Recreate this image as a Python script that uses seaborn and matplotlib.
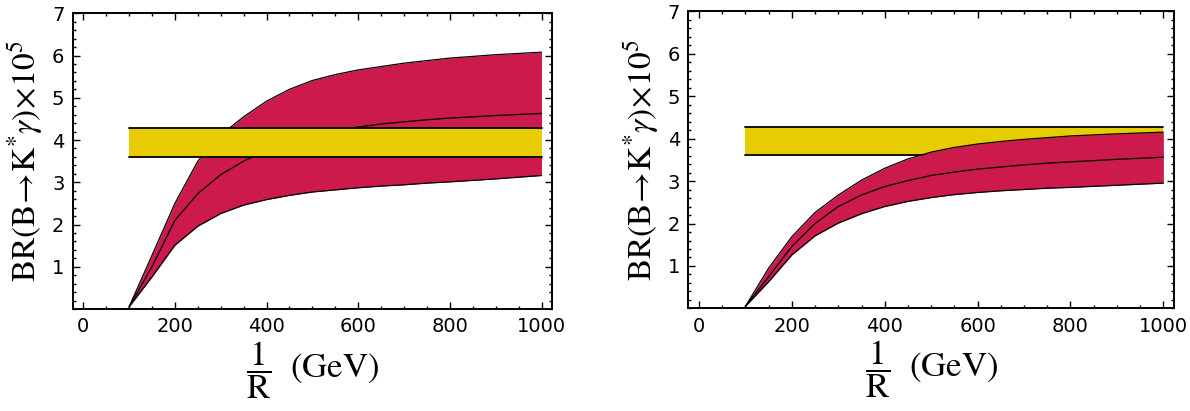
import matplotlib
matplotlib.use("Agg")
import matplotlib.pyplot as plt
from matplotlib.ticker import MultipleLocator, FixedLocator
import numpy as np
import pandas as pd
import seaborn as sns

# Inverse compactification radius 1/R (GeV)
inv_r = [100, 150, 200, 250, 300, 350, 400, 450, 500, 550, 600, 650, 700, 750, 800, 900, 1000]

# Left panel: BR(B -> K* gamma) x 10^5, upper / central / lower predictions
left_upper = [0.05, 1.27, 2.50, 3.50, 4.12, 4.55, 4.92, 5.20, 5.41, 5.55, 5.66, 5.74, 5.82, 5.88, 5.94, 6.02, 6.08]
left_mid = [0.05, 1.00, 2.10, 2.73, 3.18, 3.50, 3.75, 3.95, 4.11, 4.22, 4.31, 4.38, 4.43, 4.48, 4.52, 4.58, 4.63]
left_lower = [0.05, 0.76, 1.51, 1.96, 2.26, 2.46, 2.59, 2.69, 2.77, 2.82, 2.87, 2.91, 2.94, 2.98, 3.01, 3.08, 3.16]

# Right panel
right_upper = [0.05, 0.95, 1.69, 2.26, 2.67, 3.02, 3.30, 3.52, 3.68, 3.79, 3.87, 3.93, 3.98, 4.02, 4.06, 4.11, 4.15]
right_mid = [0.05, 0.75, 1.46, 2.00, 2.40, 2.67, 2.87, 3.01, 3.13, 3.21, 3.28, 3.33, 3.38, 3.42, 3.45, 3.51, 3.56]
right_lower = [0.05, 0.63, 1.26, 1.71, 2.01, 2.23, 2.40, 2.52, 2.61, 2.68, 2.73, 2.77, 2.80, 2.83, 2.85, 2.90, 2.95]

# Experimental band
exp_x = [100, 1000]
exp_low = [3.61, 3.61]
exp_high = [4.28, 4.28]

x_ticks = [0, 200, 400, 600, 800, 1000]
y_ticks = [1, 2, 3, 4, 5, 6, 7]

RED = "#CC1A4D"
YELLOW = "#E6CC00"

sns.set_theme(style="white")
plt.rcParams["font.family"] = ["DejaVu Sans"]
plt.rcParams["mathtext.fontset"] = "stix"
plt.rcParams["text.color"] = "black"
plt.rcParams["axes.labelcolor"] = "black"
plt.rcParams["xtick.color"] = "black"
plt.rcParams["ytick.color"] = "black"

fig = plt.figure(figsize=(11.9, 4.11), dpi=100)
ax_l = fig.add_axes([0.0611, 0.2482, 0.4028, 0.7194])
ax_r = fig.add_axes([0.5784, 0.2494, 0.4082, 0.7238])


def draw_panel(ax, upper, mid, lower, band_on_top):
    df = pd.DataFrame({"x": inv_r, "upper": upper, "mid": mid, "lower": lower})
    band_z = 2
    exp_z = 4 if band_on_top else 1
    ax.fill_between(df["x"], df["lower"], df["upper"], color=RED, lw=0, zorder=band_z)
    for col in ["upper", "mid", "lower"]:
        sns.lineplot(data=df, x="x", y=col, ax=ax, color="black", lw=0.9,
                     zorder=band_z + 0.5, legend=False)
    edf = pd.DataFrame({"x": exp_x, "lo": exp_low, "hi": exp_high})
    ax.fill_between(edf["x"], edf["lo"], edf["hi"], color=YELLOW, lw=0, zorder=exp_z)
    for col in ["lo", "hi"]:
        sns.lineplot(data=edf, x="x", y=col, ax=ax, color="black", lw=1.3,
                     zorder=exp_z + 0.5, legend=False)

    ax.set_xlim(-23, 1023)
    ax.set_ylim(0, 7)
    ax.xaxis.set_major_locator(FixedLocator(x_ticks))
    ax.xaxis.set_minor_locator(MultipleLocator(50))
    ax.yaxis.set_major_locator(FixedLocator(y_ticks))
    ax.yaxis.set_minor_locator(MultipleLocator(0.2))
    ax.tick_params(which="both", direction="in", top=True, right=True,
                   bottom=True, left=True, color="black", width=1.0)
    ax.tick_params(which="major", length=5, labelsize=14, pad=6, labelcolor="black")
    ax.tick_params(which="minor", length=2.5)
    for s in ax.spines.values():
        s.set_color("black")
        s.set_linewidth(1.4)
    ax.set_xlabel(r"$\dfrac{1}{\mathrm{R}}\ \ (\mathrm{GeV})$", fontsize=25, labelpad=2)
    ax.set_ylabel(r"$\mathrm{BR}(\mathrm{B}\!\rightarrow\!\mathrm{K}^{*}\gamma)\!\times\!10^{5}$",
                  fontsize=24, labelpad=4)


draw_panel(ax_l, left_upper, left_mid, left_lower, band_on_top=True)
draw_panel(ax_r, right_upper, right_mid, right_lower, band_on_top=False)

fig.savefig("out.png", dpi=100)
